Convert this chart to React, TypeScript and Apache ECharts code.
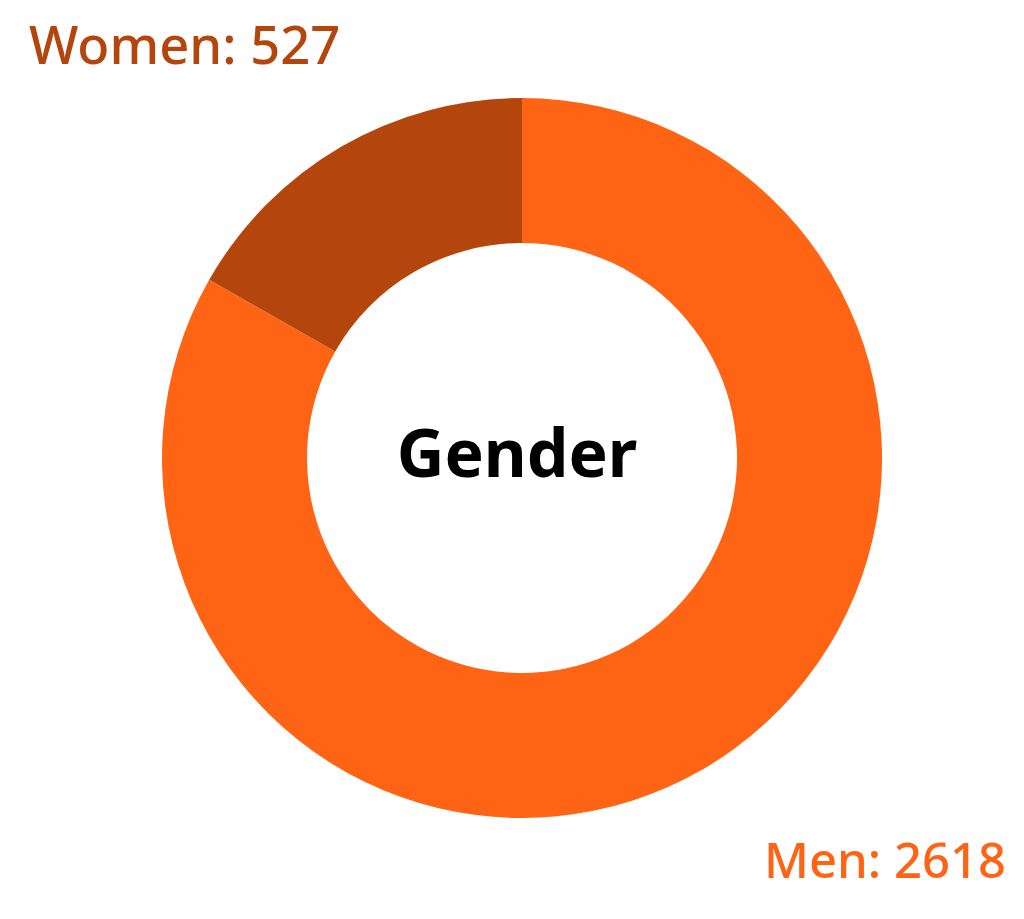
import React, { useEffect, useRef } from "react";
import * as echarts from "echarts";

const categories = ["Men", "Women"];
const values = [2618, 527];
const colors = ["#FF6314", "#B4450C"];
const centerTitle = "Gender";

export default function App() {
  const ref = useRef<HTMLDivElement>(null);
  useEffect(() => {
    document.body.style.margin = "0";
    const chart = echarts.init(ref.current!, null, { renderer: "svg" });
    const font = "'Noto Sans', 'Open Sans', sans-serif";
    chart.setOption({
      animation: false,
      backgroundColor: "#ffffff",
      series: [
        {
          type: "pie",
          center: [522, 458],
          radius: [215, 360],
          startAngle: 90,
          clockwise: true,
          label: { show: false },
          labelLine: { show: false },
          itemStyle: { borderWidth: 0 },
          data: categories.map((c, i) => ({ name: c, value: values[i], itemStyle: { color: colors[i] } })),
        },
      ],
      graphic: [
        {
          type: "text",
          left: 29,
          top: 17,
          style: {
            text: `${categories[1]}: ${values[1]}`,
            fill: colors[1],
            font: `500 52.5px ${font}`,
          },
        },
        {
          type: "text",
          right: 18,
          top: 834,
          style: {
            text: `${categories[0]}: ${values[0]}`,
            fill: colors[0],
            font: `500 49px ${font}`,
          },
        },
        {
          type: "text",
          x: 517,
          y: 451,
          style: {
            text: centerTitle,
            fill: "#000000",
            font: `bold 66px ${font}`,
            align: "center",
            verticalAlign: "middle",
          },
        },
      ],
    });
    return () => chart.dispose();
  }, []);
  return <div ref={ref} style={{ width: 1024, height: 919 }} />;
}
